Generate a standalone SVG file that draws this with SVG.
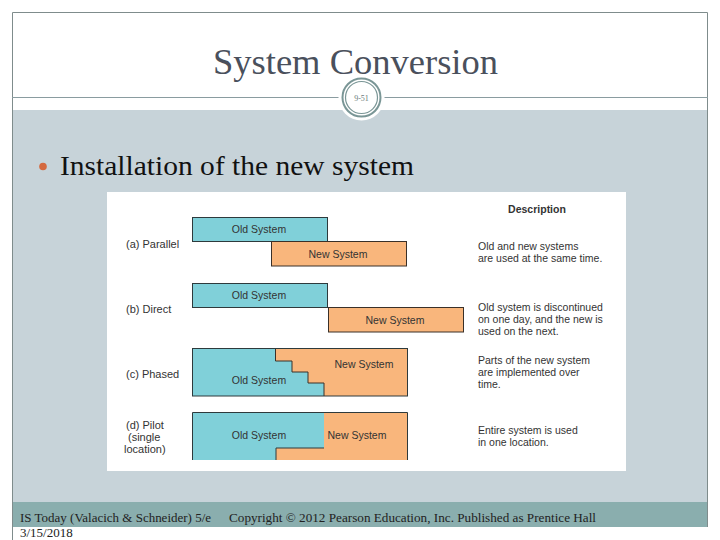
<svg xmlns="http://www.w3.org/2000/svg" width="720" height="540" viewBox="0 0 720 540">
<style>
.ser{font-family:"Liberation Serif","DejaVu Serif",serif}
.sans{font-family:"Liberation Sans","DejaVu Sans",sans-serif}
.bx{font-family:"Liberation Sans","DejaVu Sans",sans-serif;font-size:10.5px;fill:#333}
.old{fill:#80d0d9;stroke:#2e3a3c;stroke-width:1}
.new{fill:#f9b67c;stroke:#3a3028;stroke-width:1}
.lbl{font-family:"Liberation Sans","DejaVu Sans",sans-serif;font-size:11px;fill:#333}
.desc{font-family:"Liberation Sans","DejaVu Sans",sans-serif;font-size:10.5px;fill:#333}
.foot{font-family:"Liberation Serif","DejaVu Serif",serif;font-size:13px;fill:#222}
</style>
<rect x="0" y="0" width="720" height="540" fill="#ffffff"/>
<g id="slide-frame">
<rect x="12" y="110" width="696" height="392" fill="#c7d3d9"/>
<rect x="12" y="502" width="696" height="25" fill="#8aaeae"/>
<path d="M12.5 540 V12.5 H707.5 V527" fill="none" stroke="#7f8c8c" stroke-width="1"/>
<line x1="12" y1="97.5" x2="708" y2="97.5" stroke="#8a9ca0" stroke-width="1"/>
</g>
<g id="title">
<text class="ser" x="213" y="74" font-size="36" fill="#4a505c" textLength="285" lengthAdjust="spacingAndGlyphs">System Conversion</text>
</g>
<g id="page-badge">
<circle cx="361.5" cy="97.5" r="23" fill="#ffffff"/>
<circle cx="361.5" cy="97.5" r="19" fill="#ffffff" stroke="#7a9696" stroke-width="2"/>
<circle cx="361.5" cy="97.5" r="16" fill="none" stroke="#7a9696" stroke-width="1.2"/>
<text class="ser" x="361.5" y="100.5" font-size="8" fill="#6b7c7c" text-anchor="middle">9-51</text>
</g>
<g id="bullet">
<circle cx="43" cy="166.5" r="3.8" fill="#d4693f"/>
<text class="ser" x="60" y="175" font-size="27" fill="#111" textLength="354" lengthAdjust="spacingAndGlyphs">Installation of the new system</text>
</g>
<g id="figure">
<rect x="107" y="192" width="519" height="279" fill="#ffffff"/>
<text class="sans" x="537" y="213" font-size="10.5" font-weight="bold" fill="#333" text-anchor="middle">Description</text>
</g>
<g id="row-a">
<text class="lbl" x="126" y="248">(a) Parallel</text>
<rect class="old" x="192.5" y="217.5" width="135" height="24"/>
<text class="bx" x="259" y="233" text-anchor="middle">Old System</text>
<rect class="new" x="271.5" y="241.5" width="135" height="24.5"/>
<text class="bx" x="338" y="257.5" text-anchor="middle">New System</text>
<text class="desc" x="478" y="250">Old and new systems</text>
<text class="desc" x="478" y="262">are used at the same time.</text>
</g>
<g id="row-b">
<text class="lbl" x="126" y="313">(b) Direct</text>
<rect class="old" x="192.5" y="283.5" width="135" height="24"/>
<text class="bx" x="259" y="299" text-anchor="middle">Old System</text>
<rect class="new" x="328.5" y="307.5" width="135" height="24.5"/>
<text class="bx" x="395" y="324" text-anchor="middle">New System</text>
<text class="desc" x="478" y="311">Old system is discontinued</text>
<text class="desc" x="478" y="323">on one day, and the new is</text>
<text class="desc" x="478" y="335">used on the next.</text>
</g>
<g id="row-c">
<text class="lbl" x="126" y="378">(c) Phased</text>
<rect x="192.5" y="348.5" width="215" height="47.5" fill="#80d0d9"/>
<path d="M275.5 348.5 V361 H292 V372 H308 V383 H324 V396 H407.5 V348.5 Z" fill="#f9b67c"/>
<path d="M275.5 348.5 V361 H292 V372 H308 V383 H324 V396" fill="none" stroke="#3a3028" stroke-width="1"/>
<rect x="192.5" y="348.5" width="215" height="47.5" fill="none" stroke="#2e3a3c" stroke-width="1"/>
<text class="bx" x="364" y="368" text-anchor="middle">New System</text>
<text class="bx" x="259" y="384" text-anchor="middle">Old System</text>
<text class="desc" x="478" y="364">Parts of the new system</text>
<text class="desc" x="478" y="376">are implemented over</text>
<text class="desc" x="478" y="388">time.</text>
</g>
<g id="row-d">
<text class="lbl" x="126" y="429">(d) Pilot</text>
<text class="lbl" x="128" y="441">(single</text>
<text class="lbl" x="124" y="453">location)</text>
<rect x="192.5" y="412.5" width="215" height="47.5" fill="#80d0d9"/>
<path d="M324 412.5 V448 H276 V460 H407.5 V412.5 Z" fill="#f9b67c"/>
<path d="M192.5 460 V412.5 H407.5 V460 M324 448 H276 V460" fill="none" stroke="#2e3a3c" stroke-width="1"/>
<text class="bx" x="259" y="439" text-anchor="middle">Old System</text>
<text class="bx" x="357" y="439" text-anchor="middle">New System</text>
<text class="desc" x="478" y="434">Entire system is used</text>
<text class="desc" x="478" y="446">in one location.</text>
</g>
<g id="footer">
<text class="foot" x="20" y="522" textLength="191" lengthAdjust="spacingAndGlyphs">IS Today (Valacich &amp; Schneider) 5/e</text>
<text class="foot" x="229" y="522" textLength="367" lengthAdjust="spacingAndGlyphs">Copyright © 2012 Pearson Education, Inc. Published as Prentice Hall</text>
<text class="foot" x="20" y="537">3/15/2018</text>
</g>
</svg>
